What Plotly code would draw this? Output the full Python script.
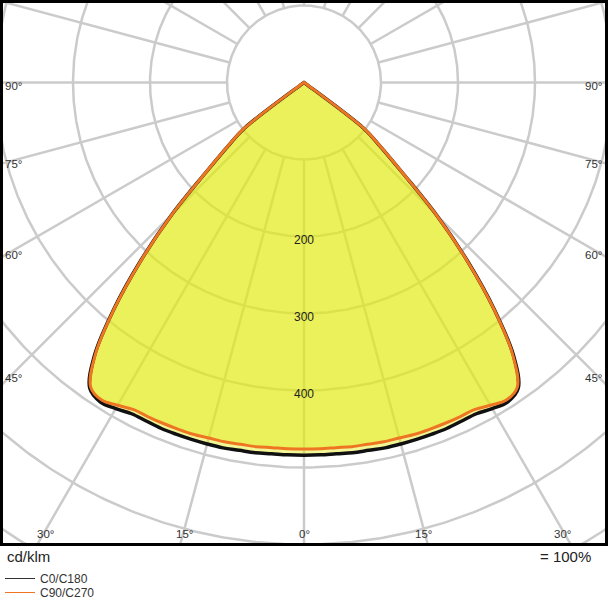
import numpy as np
import plotly.graph_objects as go

# ---- data (cd/klm) vs. gamma angle from nadir (deg), symmetric curves ----
gamma = [0, 2.5, 5, 7.5, 10, 12.5, 15, 17.5, 20, 22.5, 25, 27.5, 30, 32.5, 35,
         37.5, 40, 42.5, 45, 47.5, 50, 52.5, 55, 57.5, 60, 65, 70, 75, 80, 85, 90]
c0_c180 = [484, 484, 484, 485, 485, 486, 486, 486, 486, 486, 485, 485, 489, 492, 485,
           447, 384, 314, 243, 173, 130, 98, 4, 2, 1, 0, 0, 0, 0, 0, 0]
c90_c270 = [476, 476, 476, 477, 477, 478, 478, 479, 479, 479, 479, 479, 484, 489, 483,
            445, 383, 313, 243, 173, 130, 98, 4, 2, 1, 0, 0, 0, 0, 0, 0]

ring_values = [100, 200, 300, 400, 500, 600, 700, 800]
ring_labels = [200, 300, 400]
ray_step = 15
side_angle_labels = [90, 75, 60, 45]
bottom_angle_labels = [30, 15, 0, 15, 30]
bottom_angle_signs = [-1, -1, 0, 1, 1]
series_names = ["C0/C180", "C90/C270"]
series_colors = ["#111111", "#EE7623"]
legend_colors = ["#333333", "#EE7623"]

# ---- geometry ----
W, H = 608, 600
PLOT_H = 546
PX = 0.77          # pixels per cd/klm
CY = 82.5          # centre y (px from top)
xr = [-(W / 2) / PX, (W / 2) / PX]
yr = [-(PLOT_H - CY) / PX, CY / PX]


def to_xy(theta_deg, r):
    t = np.radians(np.asarray(theta_deg, float))
    r = np.asarray(r, float)
    return r * np.sin(t), -r * np.cos(t)


def full_curve(vals):
    g = np.array(gamma, float)
    v = np.array(vals, float)
    theta = np.concatenate([-g[::-1], g[1:]])
    rr = np.concatenate([v[::-1], v[1:]])
    x, y = to_xy(theta, rr)
    # drop consecutive coincident points (zero intensity at the apex)
    keep_x, keep_y = [x[0]], [y[0]]
    for xi, yi in zip(x[1:], y[1:]):
        if abs(xi - keep_x[-1]) > 0.5 or abs(yi - keep_y[-1]) > 0.5:
            keep_x.append(xi)
            keep_y.append(yi)
    # start the closed path at nadir so the apex is an interior point
    i0 = int(np.argmin(keep_y))
    kx = keep_x[i0:] + keep_x[:i0]
    ky = keep_y[i0:] + keep_y[:i0]
    return np.array(kx + [kx[0]]), np.array(ky + [ky[0]])


fig = go.Figure()

# grid circles and rays
gx, gy = [], []
phi = np.linspace(0, 2 * np.pi, 721)
for rv in ring_values:
    gx += list(rv * np.cos(phi)) + [None]
    gy += list(rv * np.sin(phi)) + [None]
for a in np.arange(0, 360, ray_step):
    x0, y0 = to_xy(a, ring_values[0])
    x1, y1 = to_xy(a, ring_values[-1])
    gx += [x0, x1, None]
    gy += [y0, y1, None]
fig.add_trace(go.Scatter(x=gx, y=gy, mode="lines", line=dict(color="#CBCBCB", width=2.5),
                         hoverinfo="skip", showlegend=False))

# fills
for vals in (c0_c180, c90_c270):
    x, y = full_curve(vals)
    fig.add_trace(go.Scatter(x=x, y=y, mode="lines", fill="toself",
                             fillcolor="rgba(226,234,20,0.45)",
                             line=dict(width=0, shape="spline", smoothing=1.0),
                             hoverinfo="skip", showlegend=False))

# curve lines
for vals, col, w in ((c0_c180, series_colors[0], 3.5), (c90_c270, series_colors[1], 3)):
    x, y = full_curve(vals)
    fig.add_trace(go.Scatter(x=x, y=y, mode="lines",
                             line=dict(color=col, width=w, shape="spline", smoothing=1.0),
                             hoverinfo="skip", showlegend=False))

# legend entries (thin lines)
fig.add_trace(go.Scatter(x=[None], y=[None], mode="lines", name=series_names[0],
                         line=dict(color=legend_colors[0], width=1), legend="legend"))
fig.add_trace(go.Scatter(x=[None], y=[None], mode="lines", name=series_names[1],
                         line=dict(color=legend_colors[1], width=1), legend="legend2"))

annotations = []
lab_font = dict(family="Liberation Sans, Arial, sans-serif", size=11.5, color="#333333")
# side angle labels
xc = (12 - W / 2) / PX
for a in side_angle_labels:
    yv = 0.0 if a == 90 else -abs(xc) / np.tan(np.radians(a))
    annotations.append(dict(x=xr[0] + 3 / PX, y=yv, text=f"{a}°", showarrow=False,
                            xanchor="left", yanchor="middle", yshift=-3.5, font=lab_font))
    annotations.append(dict(x=xr[1] - 4 / PX, y=yv, text=f"{a}°", showarrow=False,
                            xanchor="right", yanchor="middle", yshift=-3.5, font=lab_font))
# bottom angle labels
yc = (CY - 530) / PX
for a, s in zip(bottom_angle_labels, bottom_angle_signs):
    xv = s * abs(yc) * np.tan(np.radians(a))
    annotations.append(dict(x=xv, y=yc, text=f"{a}°", showarrow=False,
                            xanchor="center", yanchor="middle", yshift=-4, font=lab_font))
# radial labels
for rv in ring_labels:
    annotations.append(dict(x=0, y=-rv, text=str(rv), showarrow=False,
                            xanchor="center", yanchor="middle", yshift=-3.5,
                            font=dict(family="Liberation Sans, Arial, sans-serif",
                                      size=12, color="#222222")))
# unit texts
big_font = dict(family="Liberation Sans, Arial, sans-serif", size=15, color="#222222")
annotations.append(dict(xref="paper", yref="paper", x=5 / W, y=-(556 - PLOT_H) / PLOT_H,
                        text="cd/klm", showarrow=False, xanchor="left", yanchor="middle",
                        font=big_font))
annotations.append(dict(xref="paper", yref="paper", x=593 / W, y=-(556 - PLOT_H) / PLOT_H,
                        text="= 100%", showarrow=False, xanchor="right", yanchor="middle",
                        font=big_font))

leg_font = dict(family="Liberation Sans, Arial, sans-serif", size=12, color="#333333")
fig.update_layout(
    width=W, height=H,
    margin=dict(l=0, r=0, t=0, b=H - PLOT_H, pad=0, autoexpand=False),
    paper_bgcolor="white", plot_bgcolor="white",
    xaxis=dict(range=xr, visible=False, fixedrange=True),
    yaxis=dict(range=yr, visible=False, fixedrange=True),
    annotations=annotations,
    legend=dict(x=0, y=-(564 - PLOT_H) / PLOT_H, xanchor="left", yanchor="top",
                bgcolor="rgba(0,0,0,0)", font=leg_font, borderwidth=0),
    legend2=dict(x=0, y=-(578 - PLOT_H) / PLOT_H, xanchor="left", yanchor="top",
                 bgcolor="rgba(0,0,0,0)", font=leg_font, borderwidth=0),
    shapes=[dict(type="rect", xref="paper", yref="paper",
                 x0=1.5 / W, x1=1 - 1.5 / W, y0=1.5 / PLOT_H, y1=1 - 1.5 / PLOT_H,
                 line=dict(color="black", width=3), layer="above")],
    showlegend=True,
)

fig.write_html("out.html", config={"displayModeBar": False},
               post_script="document.body.style.margin='0px';"
                           "document.body.style.overflow='hidden';")
